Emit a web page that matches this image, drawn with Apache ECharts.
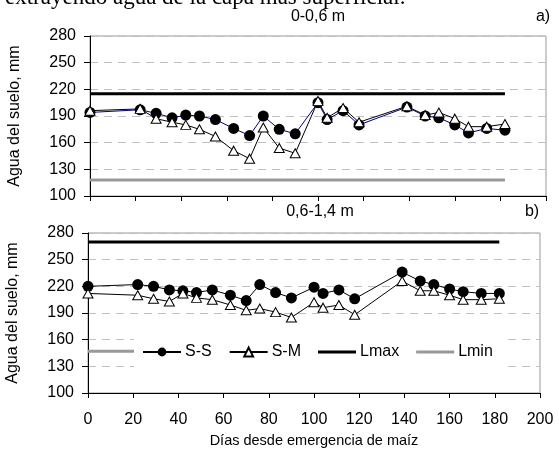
<!DOCTYPE html>
<html>
<head>
<meta charset="utf-8">
<script src="https://cdn.jsdelivr.net/npm/echarts@6/dist/echarts.min.js"></script>
<style>
html,body{margin:0;padding:0;background:#fff;}
#c{width:559px;height:452px;}
</style>
</head>
<body>
<div id="c"></div>
<script>
// ---- data ----
const days = [0,22,29,36,42,48,55,63,70,76,83,90,100,104,111,118,139,147,153,160,166,174,182];
const topSS = [194,197,193,188,191,190,186,176,168,190,175,170,205,186,196,180,200,190,188,180,171,176,174];
const topSM = [196,198,187,183,180,175,167,151,142,177,154,148,207,188,199,183,201,191,194,187,178,178,181];
const botSS = [220,222,220,216,215,213,216,210,204,222,213,207,219,212,216,206,236,226,222,217,214,212,212];
const botSM = [212,210,206,203,212,207,205,199,193,195,191,185,202,196,199,188,226,215,215,210,205,205,206];
const limitDays = [0,182];
const topLmax = 215, topLmin = 118;
const botLmax = 270, botLmin = 147;
const yTicks = [100,130,160,190,220,250,280];
const xTicks = [0,20,40,60,80,100,120,140,160,180,200];
const seriesNames = ['S-S','S-M','Lmax','Lmin'];
const panelTitles = ['0-0,6 m','0,6-1,4 m'];
const panelTags = ['a)','b)'];
const yName = 'Agua del suelo, mm';
const xName = 'Días desde emergencia de maíz';
const headerText = 'extrayendo agua de la capa más superficial.';

const pair = (xs, ys) => xs.map((x,i)=>[x, ys[i]]);
const FONT = '"Liberation Sans", Arial, sans-serif';
const LINE_ICON = 'path://M0,0H40V3H0Z';

function xAxisFor(gi, showLabels){
  return {
    type:'value', gridIndex:gi, min:xTicks[0], max:xTicks[xTicks.length-1], interval:20,
    axisLine:{show:true, onZero:false, lineStyle:{color:'#000', width:1}},
    axisTick:{show:true, inside:false, length:5, lineStyle:{color:'#000'}},
    axisLabel:{show:showLabels, color:'#000', fontSize:16, fontFamily:FONT, margin:19},
    splitLine:{show:false},
    name: showLabels ? xName : '', nameLocation:'middle', nameGap:40,
    nameTextStyle:{color:'#000', fontSize:14.5, fontFamily:FONT}
  };
}
function yAxisFor(gi){
  return {
    type:'value', gridIndex:gi, min:yTicks[0], max:yTicks[yTicks.length-1], interval:30,
    axisLine:{show:true, lineStyle:{color:'#000', width:1}},
    axisTick:{show:true, inside:false, length:6, lineStyle:{color:'#000'}},
    axisLabel:{color:'#000', fontSize:16, fontFamily:FONT, margin:14},
    splitLine:{show:true, lineStyle:{color:'#c0c0c0', type:[8,6], width:1}},
    name:yName, nameLocation:'middle', nameRotate:90, nameGap:67,
    nameTextStyle:{color:'#000', fontSize:16, fontFamily:FONT}
  };
}
function ssSeries(gi, data, lineColor){
  return {name:'S-S', type:'line', xAxisIndex:gi, yAxisIndex:gi, data:data,
    symbol:'circle', symbolSize:11, showAllSymbol:true,
    lineStyle:{color:lineColor, width:1}, itemStyle:{color:'#000', borderColor:'#000', borderWidth:0},
    z:3, animation:false};
}
function smSeries(gi, data){
  return {name:'S-M', type:'line', xAxisIndex:gi, yAxisIndex:gi, data:data,
    symbol:'triangle', symbolSize:[10,9], showAllSymbol:true,
    lineStyle:{color:'#000', width:1}, itemStyle:{color:'#fff', borderColor:'#000', borderWidth:1},
    z:4, animation:false};
}
function limSeries(gi, name, v, color){
  return {name:name, type:'line', xAxisIndex:gi, yAxisIndex:gi,
    data:pair(limitDays, limitDays.map(()=>v)), symbol:'none',
    lineStyle:{color:color, width:3}, itemStyle:{color:color}, z:2, animation:false};
}

const chart = echarts.init(document.getElementById('c'), null, {renderer:'canvas'});
chart.setOption({
  backgroundColor:'#fff',
  animation:false,
  grid:[
    {left:90, top:36, width:456, height:160, show:true, borderColor:'#999', borderWidth:1, backgroundColor:'transparent', containLabel:false, outerBoundsMode:'none'},
    {left:88, top:233, width:452, height:160, show:true, borderColor:'#999', borderWidth:1, backgroundColor:'transparent', containLabel:false, outerBoundsMode:'none'}
  ],
  xAxis:[xAxisFor(0,false), xAxisFor(1,true)],
  yAxis:[yAxisFor(0), yAxisFor(1)],
  legend:{
    data:[
      {name:seriesNames[0]},
      {name:seriesNames[1]},
      {name:seriesNames[2], icon:LINE_ICON, itemStyle:{color:'#000'}},
      {name:seriesNames[3], icon:LINE_ICON, itemStyle:{color:'#999'}}
    ],
    left:134, top:331, orient:'horizontal',
    itemWidth:38, itemHeight:11, itemGap:17,
    backgroundColor:'#fff', padding:[13,10,13,8],
    textStyle:{color:'#000', fontSize:16, fontFamily:FONT, padding:[0,0,0,-1]},
    selectedMode:false
  },
  series:[
    limSeries(1, seriesNames[2], botLmax, '#000'),
    limSeries(1, seriesNames[3], botLmin, '#999'),
    ssSeries(1, pair(days, botSS), '#000'),
    smSeries(1, pair(days, botSM)),
    limSeries(0, seriesNames[2], topLmax, '#000'),
    limSeries(0, seriesNames[3], topLmin, '#999'),
    ssSeries(0, pair(days, topSS), '#000080'),
    smSeries(0, pair(days, topSM))
  ],
  graphic:[
    {type:'text', left:5, top:-14, style:{text:headerText, font:'23px "Liberation Serif", "Times New Roman", serif', fill:'#000'}},
    {type:'text', x:318, y:17, style:{text:panelTitles[0], font:'16px '+FONT, fill:'#000', textAlign:'center', textVerticalAlign:'middle'}},
    {type:'text', x:543, y:17, style:{text:panelTags[0], font:'16px '+FONT, fill:'#000', textAlign:'center', textVerticalAlign:'middle'}},
    {type:'text', x:320, y:212, style:{text:panelTitles[1], font:'16px '+FONT, fill:'#000', textAlign:'center', textVerticalAlign:'middle'}},
    {type:'text', x:532, y:212, style:{text:panelTags[1], font:'16px '+FONT, fill:'#000', textAlign:'center', textVerticalAlign:'middle'}}
  ]
});
</script>
</body>
</html>
